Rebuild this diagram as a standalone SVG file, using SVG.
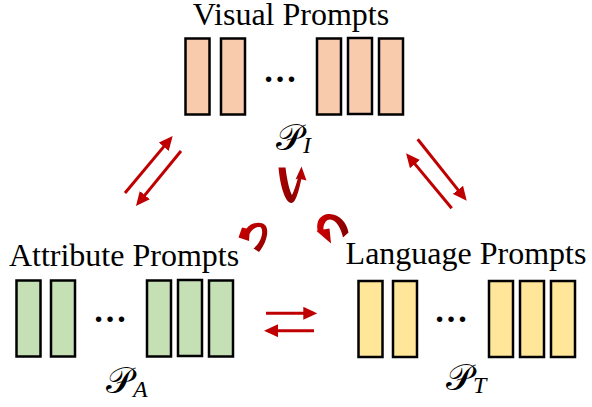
<svg xmlns="http://www.w3.org/2000/svg" width="592" height="407" viewBox="0 0 592 407">
<style>
.title{font-family:"Liberation Serif","Times New Roman",serif;font-size:32px;fill:#000;text-anchor:middle}
.dots{font-family:"Liberation Serif","Times New Roman",serif;font-size:34px;font-weight:bold;fill:#000}
.cal{font-family:"DejaVu Serif","DejaVu Sans",serif;font-size:37px;fill:#000}
.sub{font-family:"Liberation Serif","Times New Roman",serif;font-style:italic;font-size:24px;fill:#000}
.box{stroke:#000;stroke-width:2.5}
.vis{fill:#F8CBAD}
.att{fill:#C5E0B4}
.lan{fill:#FFE699}
.arr{stroke:#C00000;stroke-width:3;fill:none;marker-end:url(#ah)}
</style>
<defs>
<marker id="ah" markerUnits="userSpaceOnUse" markerWidth="14" markerHeight="13" refX="10" refY="6.5" orient="auto">
<path d="M0,0 L14,6.5 L0,13 z" fill="#C00000"/>
</marker>
<linearGradient id="g1" x1="0" y1="0" x2="1" y2="0">
<stop offset="0" stop-color="#B00000"/><stop offset="0.45" stop-color="#8B0000"/><stop offset="1" stop-color="#C80000"/>
</linearGradient>
<linearGradient id="g2" x1="1" y1="1" x2="0" y2="0">
<stop offset="0" stop-color="#8B0000"/><stop offset="0.5" stop-color="#B00000"/><stop offset="1" stop-color="#D00000"/>
</linearGradient>
<linearGradient id="g3" x1="1" y1="0" x2="0" y2="0">
<stop offset="0" stop-color="#800000"/><stop offset="0.5" stop-color="#B00000"/><stop offset="1" stop-color="#D00000"/>
</linearGradient>
</defs>

<g id="visual-prompts">
<text class="title" x="291" y="25">Visual Prompts</text>
<rect class="box vis" x="185.5" y="38.5" width="24" height="76"/>
<rect class="box vis" x="221" y="38.5" width="24" height="76"/>
<text class="dots" x="263" y="82">…</text>
<rect class="box vis" x="317" y="38.5" width="24" height="76"/>
<rect class="box vis" x="348" y="38" width="24" height="76"/>
<rect class="box vis" x="379" y="38.5" width="24" height="76"/>
<text x="276" y="150"><tspan class="cal">𝒫</tspan><tspan class="sub" dy="3">I</tspan></text>
</g>

<g id="attribute-prompts">
<text class="title" x="124" y="266">Attribute Prompts</text>
<rect class="box att" x="16.5" y="280.5" width="24" height="76"/>
<rect class="box att" x="51" y="280.5" width="24" height="76"/>
<text class="dots" x="93" y="322">…</text>
<rect class="box att" x="147" y="280.5" width="24" height="76"/>
<rect class="box att" x="178" y="280" width="24" height="76"/>
<rect class="box att" x="209" y="280.5" width="24" height="76"/>
<text x="106" y="393"><tspan class="cal">𝒫</tspan><tspan class="sub" dy="4">A</tspan></text>
</g>

<g id="language-prompts">
<text class="title" x="466" y="264">Language Prompts</text>
<rect class="box lan" x="358.5" y="281" width="24" height="76"/>
<rect class="box lan" x="393" y="281" width="24" height="76"/>
<text class="dots" x="434" y="322">…</text>
<rect class="box lan" x="489" y="281" width="24" height="76"/>
<rect class="box lan" x="520" y="281" width="24" height="76"/>
<rect class="box lan" x="551" y="281" width="24" height="76"/>
<text x="446" y="390"><tspan class="cal">𝒫</tspan><tspan class="sub" dy="3">T</tspan></text>
</g>

<g id="connectors">
<line class="arr" x1="125" y1="193" x2="170.1" y2="139.1"/>
<line class="arr" x1="181" y1="151" x2="138.5" y2="202.9"/>
<line class="arr" x1="417.7" y1="139.3" x2="464.2" y2="197.6"/>
<line class="arr" x1="451.7" y1="208.3" x2="408.6" y2="156.4"/>
<line class="arr" x1="266" y1="313.3" x2="313.3" y2="313.3"/>
<line class="arr" x1="314" y1="330.7" x2="268" y2="330.7"/>
<path fill="url(#g1)" d="M278.5,167.5 L285.5,167.5 C287,181 290,192 292,195 C294,191 296,185 297.8,178.5 L295.5,179.5 L301.5,166.5 L306.5,180.5 L301.3,179.3 C299,190 296,203 291.5,203 C285,203 280,185 278.5,167.5 Z"/>
<path fill="url(#g2)" d="M259,252 C266,244 270,230 265,225 C261,221 252,222 246.5,228.5 L242,227.5 L238.5,237.5 L249,241 L249.5,234 C253,228 257.5,226 261,227.5 C264,232 261,243 253.5,248.5 Z"/>
<path fill="url(#g3)" d="M348.5,232.5 C347,222 338,213 328,214 C320,215 316,221 317.5,230.5 L316.5,231 L331,243.5 L329.5,228.5 L323.5,229.5 C323,224.5 326,219.5 330,219.5 C336,219.5 341,228 343,237.5 Z"/>
</g>
</svg>
